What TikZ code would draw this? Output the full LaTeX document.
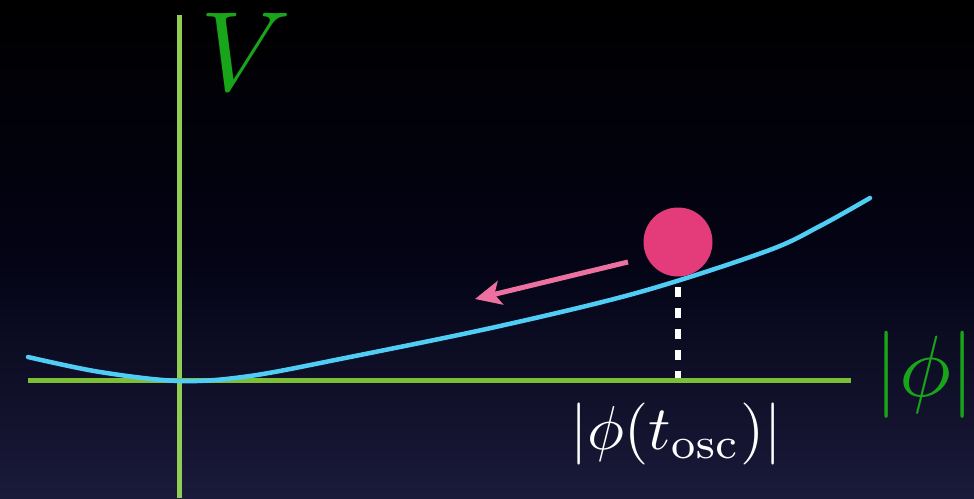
\documentclass[tikz,border=0pt]{standalone}
\usetikzlibrary{arrows.meta}
\definecolor{bgtop}{RGB}{0,0,0}
\definecolor{bgmid}{RGB}{3,3,20}
\definecolor{bgbot}{RGB}{26,26,58}
\definecolor{vaxis}{RGB}{145,205,85}
\definecolor{haxis}{RGB}{125,190,55}
\definecolor{curvecol}{RGB}{80,205,245}
\definecolor{ballcol}{RGB}{228,60,122}
\definecolor{arrowcol}{RGB}{236,112,160}
\definecolor{labgreen}{RGB}{25,165,25}
\tikzset{
  axisline/.style={line width=5pt},
  potential/.style={curvecol, line width=4.5pt, line cap=round},
  lab/.style={inner sep=0pt, anchor=base},
}
\begin{document}
\begin{tikzpicture}[x=1pt,y=-1pt]
\useasboundingbox (0,0) rectangle (974,498);
\shade[top color=bgtop, bottom color=bgbot, middle color=bgmid] (0,0) rectangle (974,498);
% axes
\coordinate (vtop) at (179,15);
\coordinate (vbot) at (179,498);
\coordinate (hl) at (28,380);
\coordinate (hr) at (851,380);
\draw[axisline, vaxis] (vtop) -- (vbot);
\draw[axisline, haxis] (hl) -- (hr);
% potential curve
\draw[potential] plot[smooth, tension=0.55] coordinates {(28,357) (100,372) (180,381) (250,376) (350,357) (500,326) (640,292) (767,251) (820,226) (870,198)};
% dashed drop line
\coordinate (dtop) at (678,287);
\coordinate (dbot) at (678,378);
\draw[white, line width=5.5pt, dash pattern=on 10pt off 11pt] (dtop) -- (dbot);
% ball
\node[circle, fill=ballcol, minimum size=69pt, inner sep=0pt] (ball) at (678,242) {};
% arrow
\coordinate (atail) at (628,262);
\coordinate (ahead) at (475,299);
\draw[arrowcol, line width=5pt, -{Stealth[length=26pt,width=24pt,inset=6pt]}] (atail) -- (ahead);
% labels
\node[lab, text=labgreen, scale=11.3] (V) at (246,90) {$V$};
\node[lab, text=labgreen, scale=8.7] (phi) at (925,396) {$|\phi|$};
\node[lab, text=white, scale=6.2] (tosc) at (676,449) {$|\phi(t_{\mathrm{osc}})|$};
\end{tikzpicture}
\end{document}
